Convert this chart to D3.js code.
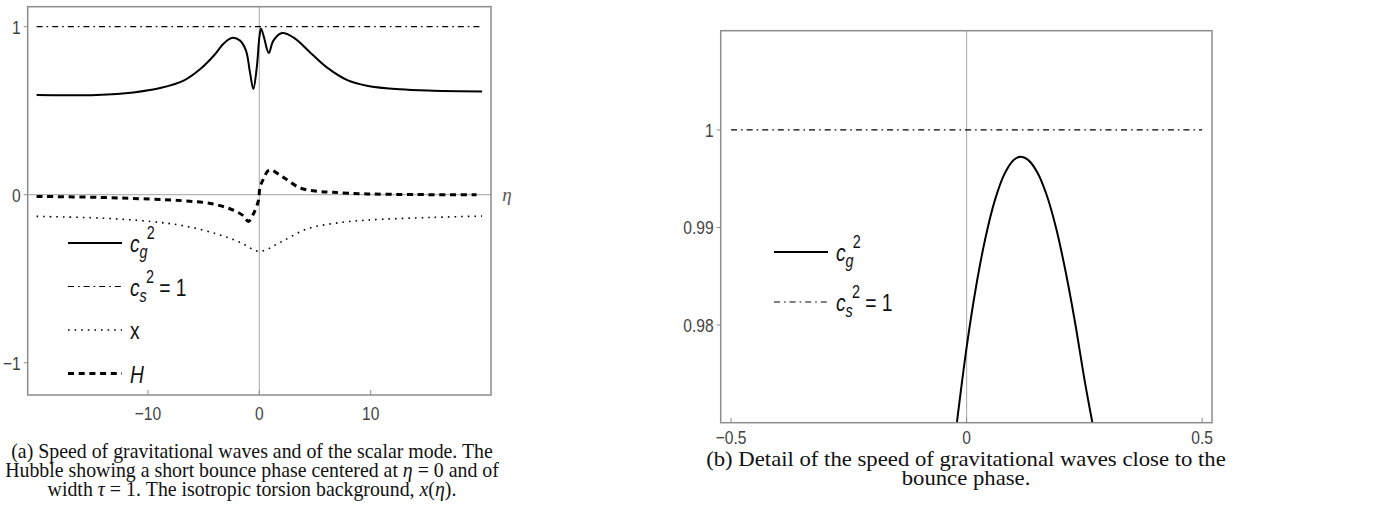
<!DOCTYPE html>
<html>
<head>
<meta charset="utf-8">
<script src="https://cdn.jsdelivr.net/npm/d3@7"></script>
<style>
  body { margin: 0; background: #fff; }
  svg { display: block; }
  .tick-label { font-family: "Liberation Sans", Arial, sans-serif; font-size: 19px; fill: #444; }
  .legend-text { font-family: "Liberation Sans", Arial, sans-serif; font-size: 24px; fill: #111; }
  .caption { font-family: "Liberation Serif", "DejaVu Serif", serif; font-size: 20px; fill: #111; }
</style>
</head>
<body>
<div id="app"></div>
<script>
const width = 1375,
  height = 517;

// panel (a): c_g^2, H and x against eta
const etaG = [-20, -14.6, -11.3, -8.9, -6.8, -5.3, -4.1, -3.2, -2.48, -1.73, -1.2, -0.84, -0.54, -0.23, 0, 0.15, 0.42, 0.84, 1.26, 2.04, 3.06, 4.56, 6.06, 7.85, 9.65, 12.6, 15.6, 20];
const cg2 = [0.593, 0.594, 0.609, 0.635, 0.679, 0.748, 0.827, 0.9, 0.933, 0.917, 0.857, 0.728, 0.629, 0.758, 0.936, 0.99, 0.936, 0.843, 0.917, 0.962, 0.936, 0.847, 0.758, 0.684, 0.649, 0.627, 0.619, 0.615];

const etaH = [-20, -14.3, -9.8, -6.8, -4.4, -2.6, -1.44, -0.99, -0.54, -0.09, 0.06, 0.36, 0.9, 2.16, 3.66, 5, 6.65, 9.65, 14, 19.5];
const hubble = [-0.01, -0.016, -0.026, -0.036, -0.052, -0.085, -0.125, -0.159, -0.115, -0.036, 0.043, 0.093, 0.147, 0.103, 0.04, 0.022, 0.014, 0.005, 0.001, 0];

const etaX = [-20, -14.3, -9.8, -6.8, -3.8, -1.7, 0, 1.86, 4.26, 6.65, 9.65, 15.6, 20];
const torsion = [-0.129, -0.139, -0.159, -0.185, -0.234, -0.284, -0.337, -0.284, -0.204, -0.171, -0.151, -0.135, -0.127];

const etaCsA = [-20, 20];
const cs2A = [1, 1];

// panel (b): detail of c_g^2 near the bounce
const etaB = [-0.0206, 0, 0.02, 0.04, 0.06, 0.08, 0.1, 0.115, 0.13, 0.15, 0.17, 0.19, 0.21, 0.23, 0.25, 0.267];
const cg2B = [0.97, 0.97769, 0.9839, 0.98893, 0.99278, 0.99545, 0.99693, 0.99726, 0.99696, 0.99567, 0.99333, 0.98995, 0.98553, 0.98033, 0.97448, 0.97];

const etaCsB = [-0.5, 0.5];
const cs2B = [1, 1];

// ticks
const xTicksA = [-10, 0, 10];
const yTicksA = [1, 0, -1];
const xTicksB = [-0.5, 0, 0.5];
const yTicksB = [1, 0.99, 0.98];

const styles = {
  cg: { width: 2, dash: null },
  cs: { width: 1.2, dash: "6,4,1.6,4" },
  x: { width: 1.6, dash: "1.6,5" },
  H: { width: 3, dash: "6,4.7" }
};

const svg = d3.select("#app").append("svg")
  .attr("width", width)
  .attr("height", height);

const fmt = d => (d < 0 ? "\u2212" : "") + Math.abs(d);

// squeeze a plain text element horizontally (the figure is condensed)
function squeeze(sel, k) {
  sel.each(function () {
    const len = this.getComputedTextLength();
    d3.select(this).attr("textLength", len * k).attr("lengthAdjust", "spacingAndGlyphs");
  });
}

function drawPanel(p) {
  const x = d3.scaleLinear().domain(p.xDomain).range([p.left, p.right]);
  const y = d3.scaleLinear().domain(p.yDomain).range([p.bottom, p.top]);
  const g = svg.append("g");

  g.append("clipPath").attr("id", p.id + "-clip")
    .append("rect")
    .attr("x", p.left).attr("y", p.top)
    .attr("width", p.right - p.left).attr("height", p.bottom - p.top);

  // axes at zero
  g.append("line")
    .attr("x1", x(0)).attr("x2", x(0))
    .attr("y1", p.top).attr("y2", p.bottom)
    .attr("stroke", "#b5b5b5").attr("stroke-width", 1.2);
  if (p.yDomain[0] < 0 && p.yDomain[1] > 0) {
    g.append("line")
      .attr("x1", p.left).attr("x2", p.right)
      .attr("y1", y(0)).attr("y2", y(0))
      .attr("stroke", "#b5b5b5").attr("stroke-width", 1.2);
  }

  const line = d3.line()
    .x(d => x(d[0]))
    .y(d => y(d[1]))
    .curve(d3.curveCatmullRom.alpha(0.5));

  const plot = g.append("g").attr("clip-path", `url(#${p.id}-clip)`);
  p.series.forEach(s => {
    const st = styles[s.style];
    plot.append("path")
      .datum(d3.zip(s.xs, s.ys))
      .attr("d", line)
      .attr("fill", "none")
      .attr("stroke", "#000")
      .attr("stroke-width", st.width)
      .attr("stroke-dasharray", st.dash);
  });

  // frame
  g.append("rect")
    .attr("x", p.left).attr("y", p.top)
    .attr("width", p.right - p.left).attr("height", p.bottom - p.top)
    .attr("fill", "none").attr("stroke", "#8c8c8c").attr("stroke-width", 1.5);

  // bottom ticks
  g.selectAll(null).data(p.xTicks).join("line")
    .attr("x1", d => x(d)).attr("x2", d => x(d))
    .attr("y1", p.bottom).attr("y2", p.bottom - 5)
    .attr("stroke", "#8c8c8c").attr("stroke-width", 1);
  g.selectAll(null).data(p.xTicks).join("text")
    .attr("class", "tick-label")
    .attr("x", d => x(d)).attr("y", p.bottom + p.labelDy)
    .attr("text-anchor", "middle")
    .text(fmt)
    .call(squeeze, 0.82);

  // left ticks
  g.selectAll(null).data(p.yTicks).join("line")
    .attr("x1", p.left - 4).attr("x2", p.left)
    .attr("y1", d => y(d)).attr("y2", d => y(d))
    .attr("stroke", "#8c8c8c").attr("stroke-width", 1);
  g.selectAll(null).data(p.yTicks).join("text")
    .attr("class", "tick-label")
    .attr("x", p.left - 7).attr("y", d => y(d) + 7)
    .attr("text-anchor", "end")
    .text(fmt)
    .call(squeeze, 0.82);

  // legend
  const lg = g.append("g");
  p.legend.forEach((item, i) => {
    const ly = p.legendY + i * p.legendStep;
    const st = styles[item.style];
    lg.append("line")
      .attr("x1", p.legendX).attr("x2", p.legendX + 54)
      .attr("y1", ly).attr("y2", ly)
      .attr("stroke", "#000")
      .attr("stroke-width", st.width)
      .attr("stroke-dasharray", st.dash);
    const t = lg.append("text")
      .attr("class", "legend-text")
      .attr("transform", `translate(${p.legendX + 62},${ly + 9}) scale(0.8,1)`);
    item.parts.forEach(part => {
      const ts = t.append("tspan").text(part.t);
      if (part.italic) ts.attr("font-style", "italic");
      if (part.sub) ts.attr("dy", 6).attr("font-size", 18);
      if (part.sup) ts.attr("dx", -1).attr("dy", part.dy).attr("font-size", 18);
      if (part.back) ts.attr("dy", part.back);
    });
  });
  return { x, y };
}

const legendCg = { style: "cg", parts: [{ t: "c", italic: true }, { t: "g", italic: true, sub: true }, { t: "2", sup: true, dy: -19 }] };
const legendCs = { style: "cs", parts: [{ t: "c", italic: true }, { t: "s", italic: true, sub: true }, { t: "2", sup: true, dy: -19 }, { t: " = 1", back: 13 }] };

const a = drawPanel({
  id: "pa",
  left: 27.7, right: 491, top: 6.7, bottom: 395,
  xDomain: [-20.8, 20.8], yDomain: [-1.192, 1.119],
  xTicks: xTicksA, yTicks: yTicksA,
  labelDy: 25,
  series: [
    { xs: etaCsA, ys: cs2A, style: "cs" },
    { xs: etaX, ys: torsion, style: "x" },
    { xs: etaH, ys: hubble, style: "H" },
    { xs: etaG, ys: cg2, style: "cg" }
  ],
  legendX: 68, legendY: 243, legendStep: 43.5,
  legend: [
    legendCg,
    legendCs,
    { style: "x", parts: [{ t: "x" }] },
    { style: "H", parts: [{ t: "H", italic: true }] }
  ]
});

// eta label at the right end of the horizontal axis
svg.append("text")
  .attr("x", 507).attr("y", a.y(0) + 6)
  .attr("text-anchor", "middle")
  .attr("font-family", "Liberation Serif, serif")
  .attr("font-style", "italic")
  .attr("font-size", 19)
  .attr("fill", "#555")
  .text("\u03b7");

drawPanel({
  id: "pb",
  left: 720.7, right: 1212, top: 30.7, bottom: 422.7,
  xDomain: [-0.522, 0.521], yDomain: [0.96998, 1.01018],
  xTicks: xTicksB, yTicks: yTicksB,
  labelDy: 21,
  series: [
    { xs: etaCsB, ys: cs2B, style: "cs" },
    { xs: etaB, ys: cg2B, style: "cg" }
  ],
  legendX: 774, legendY: 252, legendStep: 50,
  legend: [legendCg, legendCs]
});

// captions: one text per caption, lines as tspans, scaled to the first line's width
function caption(lines, cx, y0, step, firstWidth) {
  const g = svg.append("g");
  const t = g.append("text")
    .attr("class", "caption")
    .attr("text-anchor", "middle");
  lines.forEach((ln, i) => {
    ln.forEach((part, j) => {
      const ts = t.append("tspan").text(part.t);
      if (j === 0) ts.attr("x", 0).attr("y", i * step);
      if (part.italic) ts.attr("font-style", "italic");
    });
  });
  // measure the first line
  const probe = svg.append("text").attr("class", "caption").text(lines[0].map(p => p.t).join(""));
  const k = firstWidth / probe.node().getComputedTextLength();
  probe.remove();
  g.attr("transform", `translate(${cx},${y0}) scale(${k},1)`);
}

caption([
  [{ t: "(a) Speed of gravitational waves and of the scalar mode. The" }],
  [{ t: "Hubble showing a short bounce phase centered at " }, { t: "\u03b7", italic: true }, { t: " = 0 and of" }],
  [{ t: "width " }, { t: "\u03c4", italic: true }, { t: " = 1. The isotropic torsion background, " }, { t: "x", italic: true }, { t: "(" }, { t: "\u03b7", italic: true }, { t: ")." }]
], 252, 458, 19, 482);

caption([
  [{ t: "(b) Detail of the speed of gravitational waves close to the" }],
  [{ t: "bounce phase." }]
], 966, 466, 19, 520);
</script>
</body>
</html>
